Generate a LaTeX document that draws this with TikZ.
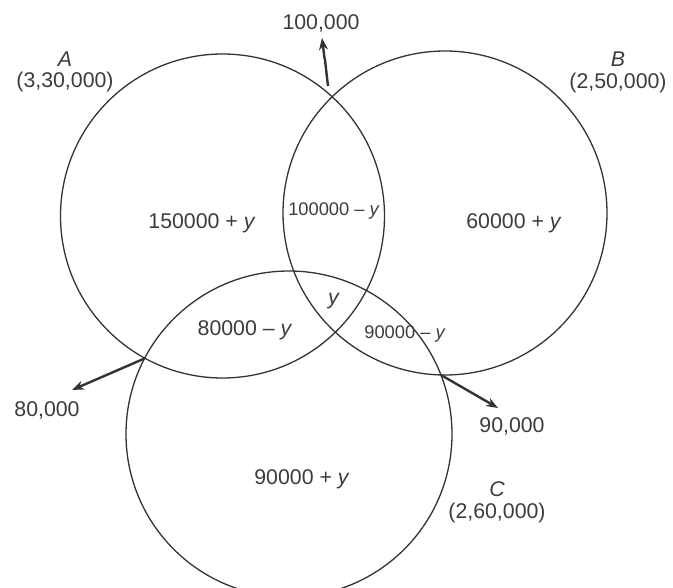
\documentclass[tikz,border=0pt]{standalone}
\usepackage{fontspec}
\setmainfont{Liberation Sans}
\usetikzlibrary{arrows.meta}
\definecolor{ink}{HTML}{333333}
\definecolor{txt}{HTML}{3C3C3C}
\tikzset{
  setline/.style={draw=ink, line width=1.3pt},
  outarrow/.style={draw=ink, line width=2.4pt, -{Stealth[length=12pt,width=9pt]}},
  lbl/.style={text=txt, inner sep=0pt, font=\fontsize{21.3}{24}\selectfont},
  smalllbl/.style={text=txt, inner sep=0pt, font=\fontsize{18.3}{21}\selectfont},
}
\begin{document}
\begin{tikzpicture}[x={(1pt,0)}, y={(0,-1pt)}]
\useasboundingbox (0,0) rectangle (673,588);
\clip (0,0) rectangle (673,588);
\fill[white] (0,0) rectangle (673,588);
% circles
\draw[setline] (222.5,216) circle (162);
\draw[setline] (445,213) circle (162);
\draw[setline] (289,434) circle (163);
% arrow start points
\coordinate (ab) at (328,86);
\coordinate (ac) at (144.5,358.5);
\coordinate (bc) at (441,375);
\coordinate (abend) at (322,38);
\coordinate (acend) at (72,390);
\coordinate (bcend) at (498,408);
\draw[outarrow] (ab) -- (325,60) -- (324.5,58) -- (abend);
\draw[outarrow] (ac) -- (acend);
\draw[outarrow] (bc) -- (bcend);
% labels
\node[lbl] (t100) at (321,23) {100,000};
\node[lbl] (tA) at (65,59) {\textit{A}};
\node[lbl] (tAn) at (65,82) {(3,30,000)};
\node[lbl] (tB) at (618,59) {\textit{B}};
\node[lbl] (tBn) at (618,83) {(2,50,000)};
\node[lbl] (a) at (202,223) {150000 + \textit{y}};
\node[smalllbl] (ab2) at (334,211) {100000 – \textit{y}};
\node[lbl] (b) at (514,223) {60000 + \textit{y}};
\node[lbl] (abc) at (334,301) {\textit{y}};
\node[lbl] (ac2) at (245,330) {80000 – \textit{y}};
\node[smalllbl] (bc2) at (405,334) {90000 – \textit{y}};
\node[lbl] (t80) at (47,410) {80,000};
\node[lbl] (t90) at (512,426) {90,000};
\node[lbl] (c) at (302,479) {90000 + \textit{y}};
\node[lbl] (tC) at (497,489) {\textit{C}};
\node[lbl] (tCn) at (497,513) {(2,60,000)};
\end{tikzpicture}
\end{document}
